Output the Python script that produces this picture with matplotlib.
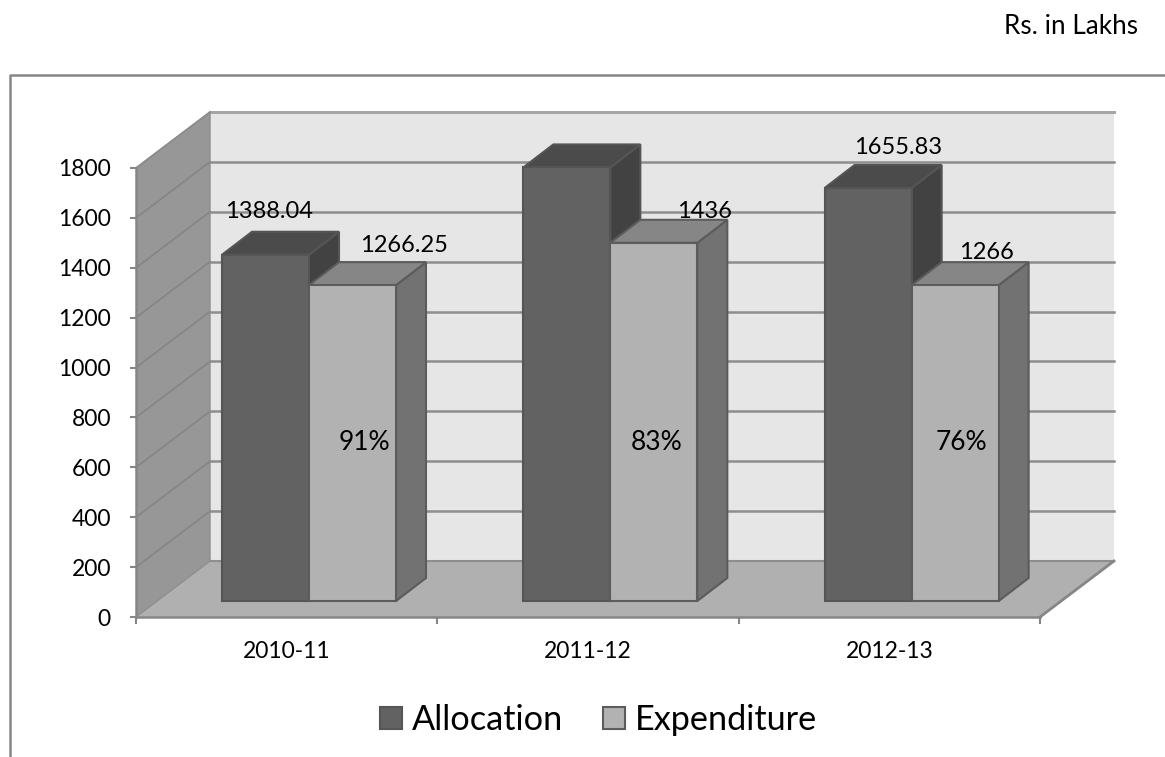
import matplotlib
matplotlib.use('Agg')
import matplotlib.pyplot as plt
from matplotlib.patches import Polygon, Patch
from matplotlib.lines import Line2D

years = ['2010-11', '2011-12', '2012-13']
allocation = [1388.04, 1738.11, 1655.83]
expenditure = [1266.25, 1436, 1266]
alloc_labels = ['1388.04', '1738.11', '1655.83']
exp_labels = ['1266.25', '1436', '1266']
pct_labels = ['91%', '83%', '76%']
y_ticks = [0, 200, 400, 600, 800, 1000, 1200, 1400, 1600, 1800]

plt.rcParams['font.family'] = ['Lato', 'DejaVu Sans']

W, H = 1165, 757
fig = plt.figure(figsize=(W / 100, H / 100), dpi=100)
ax = fig.add_axes([136 / W, 1 - 617 / H, 904 / W, 449 / H])
ax.set_xlim(0, 3)
ax.set_ylim(0, 1800)

# pretend-3d sizes, in data units
wall_dx = 74 / 904 * 3
wall_dy = 56 / 449 * 1800
bar_dx = 30 / 904 * 3
bar_dy = 23 / 449 * 1800
bar_base = 16 / 449 * 1800
bar_left = 86 / 904 * 3
bar_w = 87 / 904 * 3


def poly(pts, fc, ec='none', lw=1.5, z=1):
    ax.add_patch(Polygon(pts, closed=True, fc=fc, ec=ec, lw=lw, zorder=z, clip_on=False))


def draw_bar(x, val, front, top, side, edge, z):
    x2 = x + bar_w
    y1 = bar_base
    y2 = bar_base + val
    poly([(x2, y1), (x2 + bar_dx, y1 + bar_dy), (x2 + bar_dx, y2 + bar_dy), (x2, y2)], side, edge, z=z)
    poly([(x, y2), (x + bar_dx, y2 + bar_dy), (x2 + bar_dx, y2 + bar_dy), (x2, y2)], top, edge, z=z)
    poly([(x, y1), (x2, y1), (x2, y2), (x, y2)], front, edge, z=z)


# walls and floor
top_y = 1800 + wall_dy
poly([(wall_dx, wall_dy), (3 + wall_dx, wall_dy), (3 + wall_dx, top_y), (wall_dx, top_y)], '#e6e6e6', z=1)
poly([(0, 0), (wall_dx, wall_dy), (wall_dx, top_y), (0, 1800)], '#979797', z=1)
poly([(0, 0), (3, 0), (3 + wall_dx, wall_dy), (wall_dx, wall_dy)], '#b0b0b0', z=1)

# gridlines
for t in y_ticks:
    if t > 0:
        ax.plot([wall_dx, 3 + wall_dx], [t + wall_dy, t + wall_dy], color='#8e8e8e', lw=1.8, zorder=2, clip_on=False)
        ax.plot([0, wall_dx], [t, t + wall_dy], color='#858585', lw=1.2, zorder=2, clip_on=False)
ax.plot([wall_dx, 3 + wall_dx], [top_y, top_y], color='#a5a5a5', lw=2, zorder=2, clip_on=False)
ax.plot([wall_dx, 3 + wall_dx], [wall_dy, wall_dy], color='#8e8e8e', lw=1.5, zorder=2, clip_on=False)
ax.plot([0, wall_dx, wall_dx, 0], [1800, top_y, wall_dy, 0], color='#8e8e8e', lw=1, zorder=2, clip_on=False)
ax.plot([3, 3 + wall_dx], [0, wall_dy], color='#868686', lw=2, zorder=2, clip_on=False)

# bars
for i in range(len(years)):
    x = i + bar_left
    draw_bar(x, allocation[i], '#626262', '#4b4b4b', '#424242', '#555555', 3 + i)
    draw_bar(x + bar_w, expenditure[i], '#b2b2b2', '#868686', '#727272', '#5c5c5c', 3 + i)

# labels above the bars, nudged by hand as in the original (pixels)
alloc_off = [(3.5, 43), (-1, 27), (30, 40)]
exp_off = [(51, 40), (51, 31), (31, 33)]
pct_off = [12, 3, 6]
for i in range(len(years)):
    xa = i + bar_left + bar_w / 2
    xe = xa + bar_w
    ax.annotate(alloc_labels[i], (xa, allocation[i] + bar_base), xytext=(alloc_off[i][0] * 0.72, alloc_off[i][1] * 0.72),
                textcoords='offset points', ha='center', va='center', fontsize=17, color='black', zorder=10)
    ax.annotate(exp_labels[i], (xe, expenditure[i] + bar_base), xytext=(exp_off[i][0] * 0.72, exp_off[i][1] * 0.72),
                textcoords='offset points', ha='center', va='center', fontsize=17, color='black', zorder=10)
    ax.annotate(pct_labels[i], (xe, 700), xytext=(pct_off[i] * 0.72, 0), textcoords='offset points',
                ha='center', va='center', fontsize=19, color='black', zorder=10)

# axes
for s in ['top', 'right']:
    ax.spines[s].set_visible(False)
for s in ['left', 'bottom']:
    ax.spines[s].set_color('#868686')
    ax.spines[s].set_linewidth(1.8)
    ax.spines[s].set_zorder(2.5)
ax.patch.set_visible(False)
ax.set_yticks(y_ticks)
ax.tick_params(axis='y', length=4, width=1.5, color='#868686', labelsize=16.5, pad=14)
ax.set_xticks([0, 1, 2, 3])
ax.set_xticklabels([])
ax.set_xticks([0.5, 1.5, 2.5], minor=True)
ax.set_xticklabels(years, minor=True)
ax.tick_params(axis='x', which='major', length=5, width=1.5, color='#868686')
ax.tick_params(axis='x', which='minor', length=0, labelsize=16.5, pad=17)

# legend
handles = [Patch(fc='#626262', ec='#555555', lw=1.5), Patch(fc='#b2b2b2', ec='#5c5c5c', lw=1.5)]
fig.legend(handles, ['Allocation', 'Expenditure'], loc='center', bbox_to_anchor=(598.5 / W, 1 - 720 / H),
           ncol=2, frameon=False, fontsize=24.7, handlelength=0.64, handleheight=0.64,
           handletextpad=0.29, columnspacing=1.17, borderpad=0)

# outer frame, runs off the page at right and bottom
fig.add_artist(Line2D([10 / W, 10 / W, 1], [0, 1 - 75 / H, 1 - 75 / H], color='#868686', lw=1.8))
fig.text(1138 / W, 1 - 26 / H, 'Rs. in Lakhs', ha='right', va='center', fontsize=18.8, color='black')

fig.savefig('out.png', dpi=100)
